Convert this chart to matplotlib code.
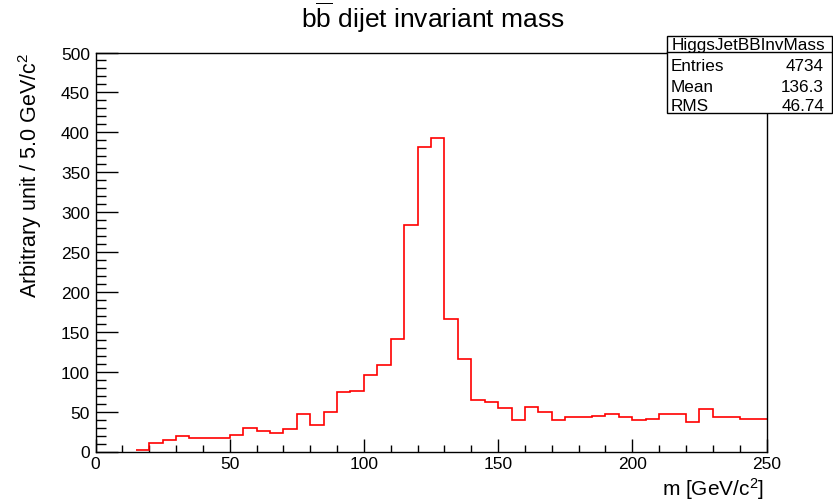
import matplotlib
matplotlib.use("Agg")
import matplotlib.pyplot as plt
import numpy as np
from matplotlib.patches import Rectangle
from matplotlib.lines import Line2D
from matplotlib.ticker import MultipleLocator

plt.rcParams['font.family'] = ['Liberation Sans', 'DejaVu Sans']
plt.rcParams['mathtext.fontset'] = 'custom'
plt.rcParams['mathtext.rm'] = 'Liberation Sans'
plt.rcParams['mathtext.it'] = 'Liberation Sans'
plt.rcParams['mathtext.bf'] = 'Liberation Sans:bold'

# ---- data ----
bin_edges = np.arange(0, 255, 5)
bin_values = [0, 0, 0, 2, 11, 15, 19, 17, 17, 17,
              21, 29, 26, 23, 28, 47, 33, 49, 74, 76,
              96, 109, 141, 284, 382, 393, 166, 116, 64, 62,
              55, 39, 56, 50, 39, 43, 43, 45, 47, 43,
              39, 41, 47, 47, 37, 53, 43, 43, 41, 41]
stats_name = "HiggsJetBBInvMass"
stats_labels = ["Entries", "Mean", "RMS"]
stats_values = ["4734", "136.3", "46.74"]
title = r"$\mathrm{b\overline{b}}$ dijet invariant mass"
xlabel = r"m [GeV/c$^{2}$]"
ylabel = r"Arbitrary unit / 5.0 GeV/c$^{2}$"

W, H = 833, 502
fig = plt.figure(figsize=(W / 100, H / 100), dpi=100)
x0, x1 = 95.5, 766.5
y0, y1 = 452.5, 53.5
ax = fig.add_axes([x0 / W, 1 - y0 / H, (x1 - x0) / W, (y0 - y1) / H])

vals = np.asarray(bin_values, dtype=float)
first = int(np.argmax(vals > 0))
ax.stairs(vals[first:], bin_edges[first:], baseline=None, color='#ff0000',
          linewidth=1.2, zorder=3)
ax.set_xlim(0, 250)
ax.set_ylim(0, 500)

for s in ax.spines.values():
    s.set_linewidth(1.0)
    s.set_zorder(5)

ax.xaxis.set_major_locator(MultipleLocator(50))
ax.xaxis.set_minor_locator(MultipleLocator(10))
ax.yaxis.set_major_locator(MultipleLocator(50))
ax.yaxis.set_minor_locator(MultipleLocator(10))
ax.tick_params(axis='x', which='major', direction='in', length=9.5, width=1.0, labelsize=12.5, pad=3)
ax.tick_params(axis='x', which='minor', direction='in', length=5, width=1.0)
ax.tick_params(axis='y', which='major', direction='in', length=15.5, width=1.0, labelsize=12.5, pad=4)
ax.tick_params(axis='y', which='minor', direction='in', length=7.2, width=1.0)
ax.tick_params(top=False, right=False, which='both')

fig.text(433 / W, 1 - 28.5 / H, title, ha='center', va='baseline', fontsize=19)
fig.text(30 / W, 1 - 53 / H, ylabel, rotation=90, ha='center', va='top', fontsize=15.5)
fig.text(764 / W, 1 - 489 / H, xlabel, ha='right', va='center', fontsize=15)

# ---- stats box ----
bx0, bx1, by0, by1, byh = 666.5, 831.5, 37, 114, 53
fig.patches.append(Rectangle((bx0 / W, 1 - by1 / H), (bx1 - bx0) / W, (by1 - by0) / H,
                             transform=fig.transFigure, facecolor='white', edgecolor='black',
                             linewidth=1.0, zorder=10))
fig.lines.append(Line2D([bx0 / W, bx1 / W], [1 - byh / H, 1 - byh / H],
                        transform=fig.transFigure, color='black', linewidth=1.0, zorder=11))
fig.text(748 / W, 1 - 45.5 / H, stats_name, ha='center', va='center',
         fontsize=12.3, zorder=12)
row_y = [66.5, 87.5, 106.5]
for lab, val, yy in zip(stats_labels, stats_values, row_y):
    fig.text(671 / W, 1 - yy / H, lab, ha='left', va='center', fontsize=12.3, zorder=12)
    fig.text(824 / W, 1 - yy / H, val, ha='right', va='center', fontsize=12.3, zorder=12)

fig.savefig("out.png", dpi=100)
